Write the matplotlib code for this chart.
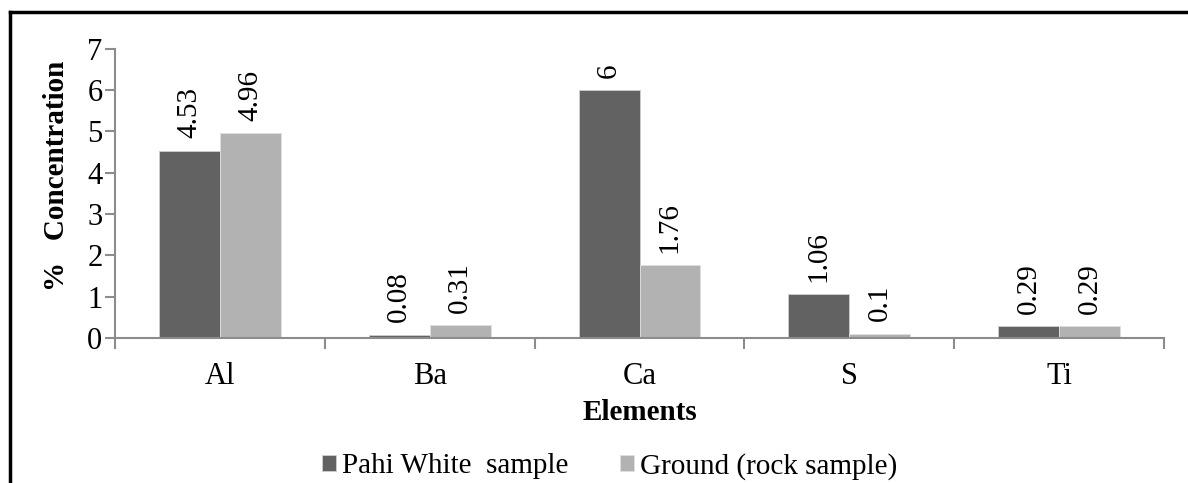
import numpy as np
import matplotlib
matplotlib.use("Agg")
from matplotlib import pyplot as plt
from matplotlib.lines import Line2D

elements = ['Al', 'Ba', 'Ca', 'S', 'Ti']
pahi = [4.53, 0.08, 6, 1.06, 0.29]
ground = [4.96, 0.31, 1.76, 0.1, 0.29]
pahi_lbl = ['4.53', '0.08', '6', '1.06', '0.29']
ground_lbl = ['4.96', '0.31', '1.76', '0.1', '0.29']

plt.rcParams['font.family'] = ['Liberation Serif', 'DejaVu Serif']

fig = plt.figure(figsize=(11.88, 4.83), dpi=100)
ax = fig.add_axes([0.0968, 0.30, 0.883, 0.599])

x = np.arange(len(elements))
w = 0.29
b1 = ax.bar(x - w/2, pahi, w, color='#626262', edgecolor='#d0d0d0', linewidth=0.6,
            label='Pahi White  sample')
b2 = ax.bar(x + w/2, ground, w, color='#b2b2b2', edgecolor='#e0e0e0', linewidth=0.6,
            label='Ground (rock sample)')

for bars, lbls in ((b1, pahi_lbl), (b2, ground_lbl)):
    for r, t in zip(bars, lbls):
        ax.annotate(t, (r.get_x() + r.get_width()/2, r.get_height()),
                    xytext=(0, 9), textcoords='offset points',
                    rotation=90, ha='center', va='bottom', fontsize=21)

ax.set_xlim(-0.5, len(elements) - 0.5)
ax.set_ylim(0, 7)
ax.set_yticks(range(8))
ax.set_xticks(x)
ax.set_xticklabels(elements)
ax.set_xticks(np.arange(-0.5, len(elements), 1), minor=True)
ax.tick_params(axis='x', which='major', length=0, labelsize=22, pad=17)
ax.tick_params(axis='x', which='minor', length=8, width=1.5, color='#8c8c8c', direction='out')
ax.tick_params(axis='y', length=7, width=1.5, color='#8c8c8c', labelsize=22, pad=2)

ax.spines['top'].set_visible(False)
ax.spines['right'].set_visible(False)
ax.spines['left'].set_color('#8c8c8c')
ax.spines['bottom'].set_color('#8c8c8c')
ax.spines['left'].set_linewidth(1.5)
ax.spines['bottom'].set_linewidth(1.5)

ax.set_xlabel('Elements', fontsize=21, fontweight='bold', labelpad=6)
ax.set_ylabel('%   Concentration', fontsize=21, fontweight='bold')
ax.yaxis.set_label_coords(-0.043, 0.56)

fig.legend(handles=[b1, b2], loc='center', bbox_to_anchor=(0.513, 0.035), ncol=2,
           frameon=False, fontsize=21, handlelength=0.5, handleheight=0.5,
           handletextpad=0.2, columnspacing=1.76)

# figure border (top and left visible)
fig.add_artist(Line2D([10/1188, 10/1188], [0, 1 - 12/483], color='black', lw=2.5,
                      transform=fig.transFigure))
fig.add_artist(Line2D([10/1188, 1], [1 - 12/483, 1 - 12/483], color='black', lw=2.5,
                      transform=fig.transFigure))

fig.savefig('out.png', dpi=100)
